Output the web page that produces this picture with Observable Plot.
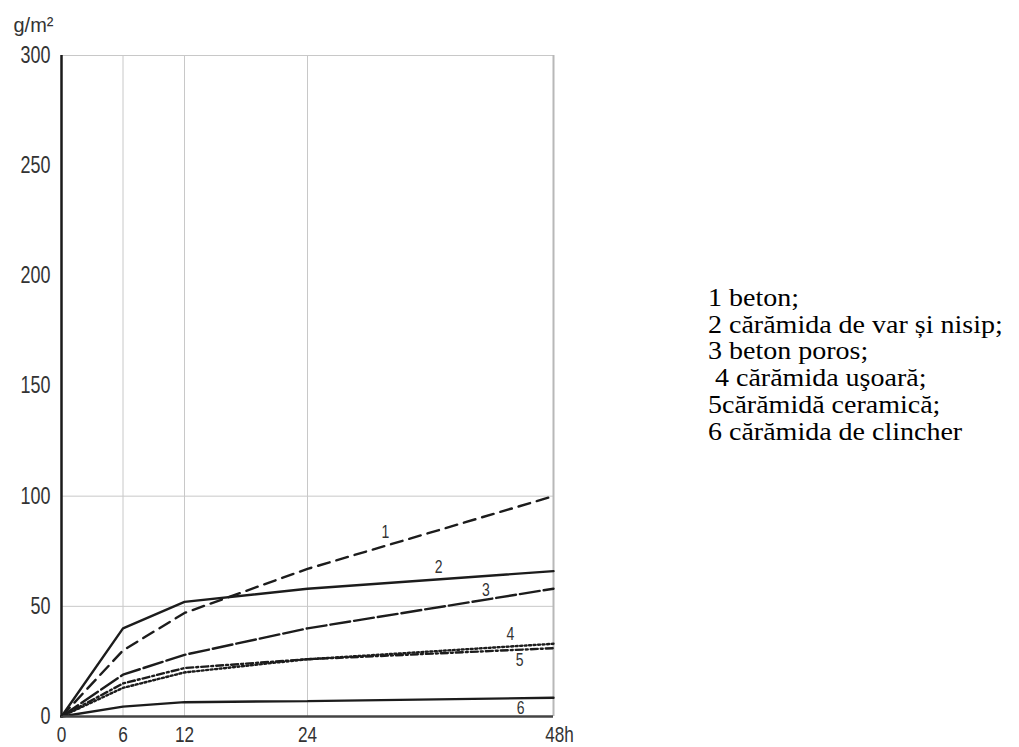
<!DOCTYPE html>
<html>
<head>
<meta charset="utf-8">
<script src="https://cdn.jsdelivr.net/npm/d3@7"></script>
<script src="https://cdn.jsdelivr.net/npm/@observablehq/plot@0.6"></script>
<style>
  html, body { margin: 0; padding: 0; background: #fff; }
  #wrap { position: relative; width: 1019px; height: 747px; overflow: hidden; }
  #chart { position: absolute; left: 0; top: 0; }
  #legend {
    position: absolute; left: 708px; top: 285px;
    font-family: "Liberation Serif", "Times New Roman", serif;
    font-size: 25px; line-height: 26.7px; color: #000;
    white-space: pre;
    transform: scaleX(1.12); transform-origin: 0 0;
  }
</style>
</head>
<body>
<div id="wrap">
  <div id="chart"></div>
  <div id="legend"></div>
</div>
<script>
// Water absorption over time (hours) for six masonry materials, g/m²
const hours = [0, 6, 12, 24, 48];
const beton = [0, 30, 47, 67, 100];
const caramidaVarNisip = [0, 40, 52, 58, 66];
const betonPoros = [0, 19, 28, 40, 58];
const caramidaUsoara = [0, 13, 20, 26, 33];
const caramidaCeramica = [0, 15, 22, 26, 31];
const caramidaClincher = [0, 4.5, 6.5, 7, 8.5];

const seriesIds = ["1", "2", "3", "4", "5", "6"];
const seriesValues = [beton, caramidaVarNisip, betonPoros, caramidaUsoara, caramidaCeramica, caramidaClincher];
const legendLines = [
  "1 beton;",
  "2 cărămida de var și nisip;",
  "3 beton poros;",
  " 4 cărămida uşoară;",
  "5cărămidă ceramică;",
  "6 cărămida de clincher"
];

// where the number tag of each curve sits (hours, g/m²)
const tagHours = [31.6, 36.8, 41.4, 43.8, 44.7, 44.8];
const tagValues = [83.6, 67.9, 57.3, 37.3, 25.5, 3.6];

const yTicks = [0, 50, 100, 150, 200, 250, 300];
const xTicks = [0, 6, 12, 24];

// dash pattern per curve
const dashes = ["12,7", null, "20,4", "2,2.5", "7,3,2,3", null];

const rows = seriesIds.flatMap((id, i) => hours.map((h, j) => ({id, h, v: seriesValues[i][j]})));
const tags = seriesIds.map((id, i) => ({id, h: tagHours[i], v: tagValues[i]}));

const ink = "#1c1c1c";
const sans = "'Liberation Sans', Arial, sans-serif";

const plot = Plot.plot({
  width: 600,
  height: 747,
  marginLeft: 61,
  marginRight: 47,
  marginTop: 55,
  marginBottom: 31,
  style: {fontFamily: sans, overflow: "visible", background: "transparent"},
  x: {domain: [0, 48]},
  y: {domain: [0, 300]},
  marks: [
    Plot.gridX([6, 12, 24], {stroke: "#c8c8c8", strokeOpacity: 1, strokeWidth: 1}),
    Plot.gridY([50, 100], {stroke: "#c8c8c8", strokeOpacity: 1, strokeWidth: 1}),
    Plot.ruleY([300], {stroke: "#c8c8c8", strokeWidth: 1}),
    Plot.ruleX([48], {stroke: "#b8b8b8", strokeWidth: 2}),
    ...seriesIds.map((id, i) =>
      Plot.line(rows.filter(d => d.id === id), {
        x: "h", y: "v", stroke: ink, strokeWidth: 2.4,
        strokeDasharray: dashes[i] || undefined, strokeLinejoin: "miter"
      })
    ),
    Plot.ruleY([0], {stroke: "#444", strokeWidth: 2.5}),
    Plot.ruleX([0], {stroke: "#1a1a1a", strokeWidth: 2.5}),
    Plot.text(tags, {x: "h", y: "v", text: "id", fontSize: 18, fill: "#333"}),
    Plot.axisY({ticks: yTicks, tickSize: 0, tickPadding: 11, fontSize: 23, color: "#333", label: null}),
    Plot.axisX({ticks: xTicks, tickSize: 0, tickPadding: 10, fontSize: 22, color: "#333", label: null}),
    Plot.axisX({ticks: [48], tickFormat: () => "48h", tickSize: 0, tickPadding: 10, dx: 6, fontSize: 22, color: "#333", label: null}),
    Plot.text(["g/m²"], {frameAnchor: "top-left", dx: -48, dy: -38, textAnchor: "start", fontSize: 21, fill: "#333"})
  ]
});
document.getElementById("chart").appendChild(plot);

// the chart lettering is a condensed grotesque: narrow every label horizontally
plot.querySelectorAll("text").forEach(t => {
  const len = t.getComputedTextLength();
  if (!len) return;
  const squeeze = t.textContent === "g/m²" ? 0.95 : 0.78;
  t.setAttribute("textLength", (len * squeeze).toFixed(1));
  t.setAttribute("lengthAdjust", "spacingAndGlyphs");
});

const legend = document.getElementById("legend");
legendLines.forEach(t => {
  const div = document.createElement("div");
  div.textContent = t;
  legend.appendChild(div);
});
</script>
</body>
</html>
